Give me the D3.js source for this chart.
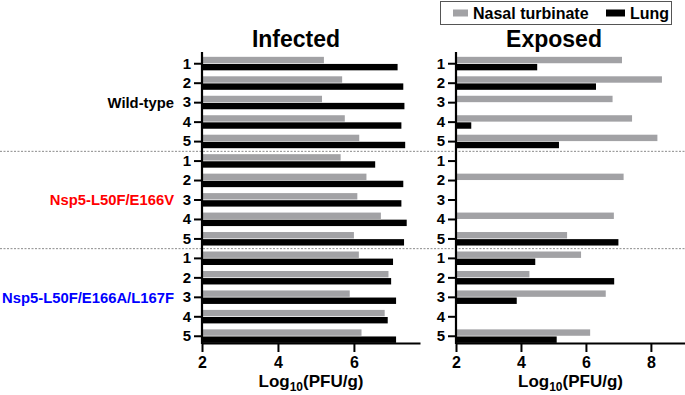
<!DOCTYPE html>
<html>
<head>
<meta charset="utf-8">
<script src="https://cdn.jsdelivr.net/npm/d3@7"></script>
<style>
  body { margin: 0; background: #fff; }
  text { font-family: "Liberation Sans", Arial, sans-serif; font-weight: bold; }
</style>
</head>
<body>
<div id="chart"></div>
<script>
// one row per animal, 5 animals per virus group
const groups = ["Wild-type", "Nsp5-L50F/E166V", "Nsp5-L50F/E166A/L167F"];
const groupColors = ["#000000", "#ff0000", "#0000ff"];
const animals = ["1", "2", "3", "4", "5"];
const seriesNames = ["Nasal turbinate", "Lung"];

// log10 PFU/g, null = below detection (no bar)
const infectedNasal = [5.21, 5.69, 5.16, 5.76, 6.14,
                       5.65, 6.33, 6.09, 6.71, 6.00,
                       6.13, 6.91, 5.89, 6.81, 6.20];
const infectedLung  = [7.15, 7.30, 7.33, 7.25, 7.35,
                       6.56, 7.30, 7.25, 7.39, 7.32,
                       7.03, 6.98, 7.11, 6.89, 7.11];
const exposedNasal  = [7.11, 8.34, 6.82, 7.42, 8.20,
                       null, 7.16, null, 6.86, 5.42,
                       5.85, 4.26, 6.61, null, 6.13];
const exposedLung   = [4.50, 6.31, null, 2.47, 5.17,
                       null, null, null, null, 7.00,
                       4.44, 6.87, 3.87, null, 5.10];

const xTicksLeft = [2, 4, 6];
const xTicksRight = [2, 4, 6, 8];

const W = 685, H = 395;
const grayColor = "#a2a2a5";
const axisTop = 52, axisY = 343;

const svg = d3.select("#chart").append("svg")
    .attr("width", W)
    .attr("height", H);

const rowKeys = d3.range(groups.length * animals.length);
const y = d3.scaleBand()
    .domain(rowKeys)
    .range([54, 346]);

const barH = 6.4;

// dotted separators between groups
[5, 10].forEach(i => {
    const yy = (y(i - 1) + y.bandwidth() / 2 + y(i) + y.bandwidth() / 2) / 2;
    svg.append("line")
        .attr("x1", 0).attr("x2", W)
        .attr("y1", yy).attr("y2", yy)
        .attr("stroke", "#8a8a8a")
        .attr("stroke-width", 1)
        .attr("stroke-dasharray", "2,1.5");
});

function panel(x0, x1, domain, ticks, nasal, lung, title, titleX) {
    const x = d3.scaleLinear().domain(domain).range([x0, x1]);
    const g = svg.append("g");

    const rows = rowKeys.map(i => ({ i: i, nasal: nasal[i], lung: lung[i] }));

    g.selectAll("rect.nasal")
        .data(rows.filter(d => d.nasal != null))
        .join("rect")
        .attr("class", "nasal")
        .attr("x", x(domain[0]))
        .attr("y", d => y(d.i) + y.bandwidth() / 2 - barH - 0.5)
        .attr("width", d => x(d.nasal) - x(domain[0]))
        .attr("height", barH)
        .attr("fill", grayColor);

    g.selectAll("rect.lung")
        .data(rows.filter(d => d.lung != null))
        .join("rect")
        .attr("class", "lung")
        .attr("x", x(domain[0]))
        .attr("y", d => y(d.i) + y.bandwidth() / 2 + 0.2)
        .attr("width", d => x(d.lung) - x(domain[0]))
        .attr("height", barH)
        .attr("fill", "#000");

    // x axis
    const xa = g.append("g")
        .attr("transform", `translate(0, ${axisY})`)
        .call(d3.axisBottom(x).tickValues(ticks).tickFormat(d3.format("d"))
            .tickSize(9).tickPadding(5).tickSizeOuter(0));
    xa.select(".domain").attr("stroke-width", 2.2);
    xa.selectAll(".tick line").attr("stroke-width", 2);
    xa.selectAll(".tick text").attr("font-size", 16).attr("fill", "#000");

    // y axis
    const yAxis = d3.axisLeft(y).tickSize(8).tickPadding(3).tickSizeOuter(0)
        .tickFormat(i => animals[i % animals.length]);
    const ya = g.append("g")
        .attr("transform", `translate(${x0}, 0)`)
        .call(yAxis);
    ya.select(".domain").attr("d", `M0,${axisTop}V${axisY + 1}`).attr("stroke-width", 2.2);
    ya.selectAll(".tick line").attr("stroke-width", 2);
    ya.selectAll(".tick text").attr("font-size", 15).attr("fill", "#000");

    g.append("text")
        .attr("x", titleX).attr("y", 47)
        .attr("text-anchor", "middle")
        .attr("font-size", 23)
        .text(title);

    const lab = g.append("text")
        .attr("x", (x0 + x1) / 2).attr("y", 387)
        .attr("text-anchor", "middle")
        .attr("font-size", 17);
    lab.append("tspan").text("Log");
    lab.append("tspan").attr("font-size", 12).attr("dy", 4).text("10");
    lab.append("tspan").attr("dy", -4).text("(PFU/g)");
}

panel(202, 420, [2, 7.74], xTicksLeft, infectedNasal, infectedLung, "Infected", 296);
panel(456, 685, [2, 9.05], xTicksRight, exposedNasal, exposedLung, "Exposed", 554);

// group labels next to row 3
groups.forEach((name, gi) => {
    const i = gi * animals.length + 2;
    svg.append("text")
        .attr("x", 174)
        .attr("y", y(i) + y.bandwidth() / 2)
        .attr("dy", "0.35em")
        .attr("text-anchor", "end")
        .attr("font-size", 14.8)
        .attr("fill", groupColors[gi])
        .text(name);
});

// legend
const legend = svg.append("g");
legend.append("rect")
    .attr("x", 440.5).attr("y", 1.5)
    .attr("width", 231).attr("height", 23)
    .attr("fill", "#fff")
    .attr("stroke", "#555")
    .attr("stroke-width", 1);
const legendItems = [
    { name: seriesNames[0], color: grayColor, x: 453, w: 15 },
    { name: seriesNames[1], color: "#000", x: 606, w: 19 }
];
legendItems.forEach(d => {
    legend.append("rect")
        .attr("x", d.x).attr("y", 9.5)
        .attr("width", d.w).attr("height", 7)
        .attr("fill", d.color);
    legend.append("text")
        .attr("x", d.x + d.w + 5).attr("y", 19)
        .attr("font-size", 16)
        .text(d.name);
});
</script>
</body>
</html>
